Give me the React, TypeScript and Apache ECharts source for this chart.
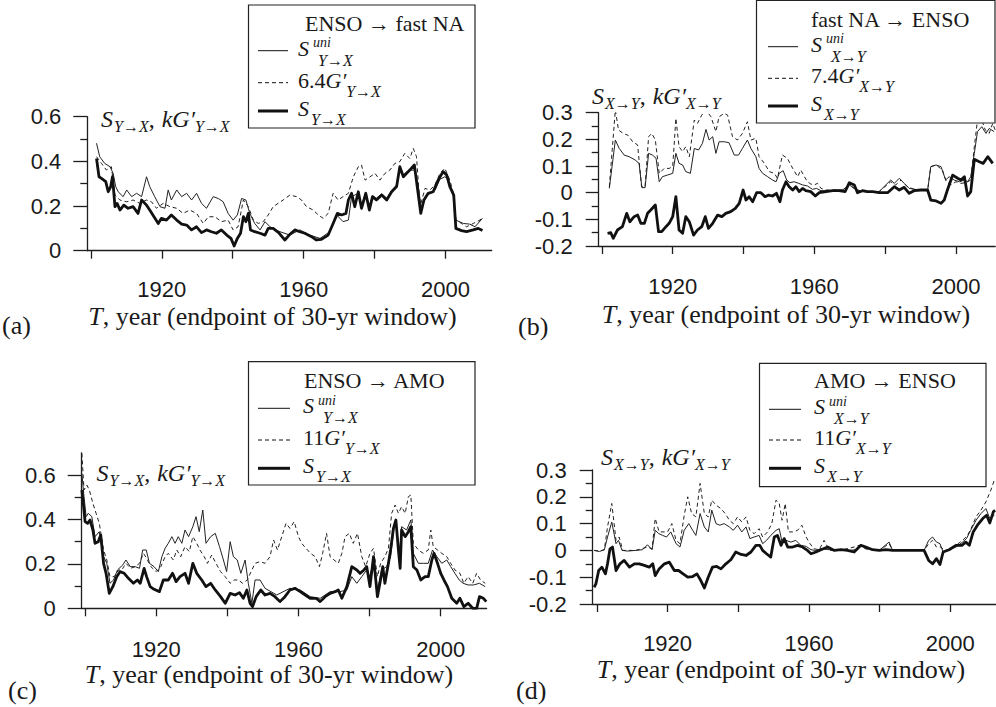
import React, { useEffect, useRef } from "react";
import * as echarts from "echarts";

// ---------- axis tick values ----------
const xTickYears = [1900, 1920, 1940, 1960, 1980, 2000];
const xLabelYears = [1920, 1960, 2000];
const yMajorAC = [0, 0.2, 0.4, 0.6];
const yMinorAC = [0.1, 0.3, 0.5];
const yMajorBD = [-0.2, -0.1, 0, 0.1, 0.2, 0.3];
const yMinorBD = [-0.15, -0.05, 0.05, 0.15, 0.25];

// ---------- panel (a): ENSO -> fast NA ----------
const aUni: [number, number][] = [[1901.6,0.481],[1902.5,0.421],[1903.9,0.391],[1905.4,0.376],[1906.3,0.346],[1907.0,0.287],[1907.7,0.264],[1909.1,0.242],[1910.1,0.272],[1911.5,0.242],[1912.9,0.257],[1914.3,0.242],[1915.7,0.331],[1916.6,0.287],[1918.0,0.242],[1919.5,0.197],[1920.9,0.19],[1921.8,0.272],[1922.7,0.227],[1924.2,0.272],[1925.6,0.242],[1927.0,0.257],[1928.4,0.227],[1929.8,0.257],[1931.2,0.212],[1932.6,0.19],[1934.5,0.242],[1935.9,0.234],[1937.3,0.219],[1938.7,0.167],[1940.1,0.137],[1941.3,0.16],[1942.5,0.234],[1943.7,0.227],[1944.8,0.167],[1946.2,0.122],[1947.7,0.093],[1949.1,0.13],[1950.5,0.107],[1953.3,0.085],[1956.1,0.07],[1958.9,0.093],[1961.7,0.07],[1964.6,0.055],[1967.4,0.085],[1969.3,0.16],[1971.1,0.13],[1972.6,0.137],[1973.5,0.242],[1975.4,0.257],[1976.3,0.2],[1977.5,0.262],[1978.5,0.19],[1979.4,0.245],[1980.5,0.235],[1982.0,0.255],[1983.4,0.235],[1984.8,0.27],[1986.2,0.295],[1987.1,0.37],[1988.1,0.34],[1989.5,0.36],[1991.4,0.361],[1992.3,0.29],[1993.2,0.182],[1994.2,0.235],[1995.6,0.26],[1997.0,0.27],[1998.4,0.32],[1999.8,0.331],[2000.8,0.32],[2002.2,0.242],[2002.9,0.137],[2005.0,0.122],[2006.8,0.119],[2008.3,0.107],[2010.4,0.145]];
const aGc: [number, number][] = [[1901.6,0.421],[1903.0,0.391],[1904.4,0.361],[1905.8,0.376],[1906.8,0.249],[1908.2,0.227],[1910.1,0.219],[1911.9,0.227],[1913.8,0.212],[1915.7,0.227],[1917.1,0.219],[1918.5,0.19],[1920.4,0.212],[1922.3,0.197],[1924.2,0.19],[1926.0,0.167],[1927.9,0.182],[1929.8,0.167],[1931.7,0.122],[1933.1,0.152],[1935.0,0.152],[1936.8,0.13],[1938.7,0.137],[1940.1,0.093],[1941.5,0.107],[1943.0,0.227],[1944.4,0.197],[1945.8,0.137],[1947.2,0.122],[1948.6,0.13],[1950.0,0.16],[1951.4,0.197],[1952.8,0.212],[1954.2,0.227],[1956.1,0.249],[1958.0,0.242],[1959.4,0.227],[1960.8,0.197],[1962.7,0.182],[1964.1,0.16],[1965.5,0.145],[1966.9,0.167],[1968.3,0.257],[1969.7,0.227],[1971.1,0.242],[1972.6,0.257],[1974.0,0.331],[1975.4,0.376],[1976.3,0.384],[1977.3,0.316],[1978.7,0.331],[1980.1,0.346],[1981.5,0.316],[1982.9,0.346],[1984.3,0.361],[1985.7,0.391],[1987.1,0.399],[1988.5,0.436],[1989.9,0.413],[1990.9,0.458],[1991.8,0.421],[1992.8,0.197],[1994.2,0.279],[1995.6,0.272],[1997.0,0.294],[1998.4,0.346],[1999.8,0.369],[2001.2,0.316],[2002.2,0.257],[2002.9,0.137],[2004.5,0.122],[2005.9,0.107],[2007.8,0.122],[2009.7,0.137],[2010.4,0.152]];
const aS: [number, number][] = [[1901.6,0.413],[1902.3,0.331],[1903.0,0.324],[1904.2,0.309],[1904.9,0.264],[1905.6,0.287],[1906.1,0.331],[1906.8,0.197],[1907.4,0.212],[1908.2,0.182],[1909.3,0.204],[1910.5,0.19],[1911.9,0.197],[1913.3,0.167],[1914.3,0.227],[1915.7,0.204],[1916.6,0.182],[1917.8,0.152],[1919.0,0.122],[1919.9,0.145],[1921.3,0.137],[1922.7,0.16],[1924.2,0.137],[1925.6,0.119],[1927.0,0.115],[1928.4,0.093],[1929.8,0.107],[1931.2,0.081],[1932.6,0.093],[1934.0,0.085],[1935.4,0.078],[1936.8,0.093],[1938.3,0.07],[1939.5,0.055],[1940.4,0.021],[1941.3,0.055],[1942.2,0.078],[1943.0,0.152],[1943.7,0.13],[1944.4,0.167],[1945.0,0.093],[1946.2,0.085],[1947.7,0.078],[1949.1,0.07],[1950.0,0.1],[1951.4,0.1],[1953.1,0.078],[1954.7,0.048],[1955.9,0.07],[1957.5,0.093],[1958.9,0.085],[1960.3,0.078],[1962.2,0.063],[1963.6,0.048],[1965.0,0.051],[1966.9,0.07],[1968.3,0.122],[1969.5,0.167],[1970.7,0.16],[1971.9,0.167],[1972.6,0.227],[1973.5,0.257],[1974.4,0.197],[1975.4,0.264],[1976.3,0.19],[1977.5,0.257],[1978.5,0.182],[1979.4,0.242],[1980.5,0.227],[1982.0,0.249],[1983.4,0.227],[1984.8,0.264],[1986.2,0.287],[1987.1,0.376],[1988.1,0.331],[1989.5,0.354],[1991.2,0.384],[1992.0,0.287],[1993.0,0.167],[1993.9,0.227],[1995.1,0.257],[1996.5,0.264],[1997.9,0.316],[1999.3,0.354],[2000.3,0.339],[2001.2,0.287],[2002.3,0.249],[2002.9,0.1],[2004.5,0.09],[2005.9,0.085],[2007.8,0.093],[2009.2,0.1],[2010.4,0.09]];

// ---------- panel (b): fast NA -> ENSO ----------
const bUni: [number, number][] = [[1902.1,0.016],[1903.8,0.1975],[1904.9,0.166],[1906.3,0.141],[1907.7,0.135],[1909.4,0.1225],[1910.5,0.11],[1911.3,0.019],[1912.2,0.019],[1913.2,0.1475],[1914.3,0.141],[1915.3,0.129],[1916.2,0.041],[1917.1,0.06],[1918.5,0.066],[1920.0,0.0725],[1920.9,0.1475],[1921.8,0.11],[1922.8,0.104],[1923.7,0.079],[1925.0,0.0725],[1926.1,0.166],[1927.3,0.16],[1928.4,0.185],[1929.4,0.2375],[1930.3,0.1975],[1931.3,0.21],[1932.2,0.1475],[1933.1,0.191],[1934.6,0.191],[1935.9,0.1875],[1937.4,0.141],[1938.6,0.141],[1939.7,0.166],[1941.1,0.1975],[1942.1,0.166],[1943.5,0.135],[1944.4,0.091],[1945.4,0.0725],[1946.8,0.06],[1948.2,0.0475],[1949.2,0.041],[1950.1,0.0725],[1951.2,0.0825],[1952.2,0.0475],[1953.1,0.0375],[1954.3,0.041],[1955.6,0.035],[1956.7,0.029],[1958.1,0.025],[1959.5,0.0125],[1960.6,0.016],[1961.9,0.0075],[1964.2,0.0075],[1968.0,0.01],[1969.9,0.029],[1971.8,0.0125],[1973.6,0.004],[1978.3,0.004],[1981.6,0.0475],[1982.6,0.035],[1984.0,0.054],[1985.4,0.035],[1986.8,0.016],[1989.6,0.01],[1992.0,0.0075],[1992.9,0.0975],[1994.4,0.104],[1995.8,0.0975],[1997.1,0.0475],[1998.1,0.06],[1999.5,0.0475],[2001.0,0.041],[2002.4,0.0475],[2003.3,0.041],[2004.2,0.06],[2005.2,0.1475],[2006.1,0.229],[2007.3,0.2475],[2008.5,0.2225],[2009.4,0.241],[2010.8,0.229]];
const bGc: [number, number][] = [[1902.1,0.0225],[1903.8,0.31],[1904.7,0.235],[1906.0,0.2225],[1907.3,0.216],[1908.7,0.191],[1910.1,0.179],[1911.2,0.0225],[1912.2,0.0225],[1913.2,0.21],[1914.1,0.2225],[1915.1,0.1975],[1916.2,0.0725],[1917.6,0.091],[1919.0,0.091],[1920.0,0.0975],[1920.9,0.279],[1921.8,0.1725],[1922.8,0.154],[1923.7,0.1725],[1924.7,0.135],[1926.1,0.2725],[1927.0,0.26],[1928.2,0.291],[1929.4,0.31],[1930.8,0.285],[1932.2,0.229],[1933.1,0.285],[1934.6,0.2975],[1935.5,0.291],[1936.9,0.21],[1938.3,0.1975],[1939.7,0.2225],[1941.1,0.266],[1942.1,0.1975],[1943.5,0.204],[1944.4,0.135],[1945.9,0.11],[1947.3,0.079],[1948.7,0.0725],[1949.6,0.054],[1951.0,0.141],[1952.4,0.129],[1953.9,0.091],[1955.3,0.06],[1956.2,0.085],[1957.2,0.06],[1958.1,0.041],[1959.0,0.0325],[1960.0,0.029],[1960.9,0.035],[1961.9,0.016],[1963.3,0.01],[1968.0,0.01],[1969.9,0.029],[1971.8,0.01],[1973.6,0.004],[1978.3,0.004],[1981.6,0.041],[1983.0,0.029],[1984.5,0.0475],[1986.3,0.0225],[1988.7,0.01],[1992.0,0.0075],[1992.9,0.0975],[1994.4,0.104],[1996.2,0.085],[1997.3,0.041],[1998.6,0.029],[2000.0,0.041],[2001.4,0.035],[2002.8,0.0375],[2004.2,0.0475],[2005.2,0.1725],[2006.1,0.2725],[2007.3,0.2725],[2008.3,0.235],[2009.4,0.2225],[2010.4,0.26],[2011.1,0.235]];
const bS: [number, number][] = [[1901.6,-0.1525],[1902.5,-0.15],[1903.2,-0.171],[1904.4,-0.14],[1905.8,-0.1275],[1907.0,-0.0775],[1907.9,-0.109],[1909.1,-0.09],[1910.1,-0.084],[1911.0,-0.115],[1912.0,-0.115],[1912.9,-0.0775],[1913.8,-0.065],[1915.1,-0.046],[1916.0,-0.146],[1916.9,-0.146],[1918.1,-0.1275],[1919.0,-0.115],[1920.0,-0.09],[1920.9,-0.015],[1921.8,-0.14],[1922.8,-0.1525],[1923.7,-0.09],[1924.7,-0.109],[1925.9,-0.159],[1927.0,-0.14],[1928.2,-0.1275],[1929.2,-0.09],[1930.1,-0.134],[1931.3,-0.115],[1932.7,-0.084],[1933.9,-0.09],[1935.0,-0.0775],[1936.4,-0.071],[1937.7,-0.059],[1938.8,-0.04],[1939.9,0.01],[1940.7,-0.0275],[1941.6,-0.015],[1942.6,-0.034],[1943.7,0],[1944.9,0],[1946.1,-0.015],[1947.1,-0.009],[1948.2,-0.0125],[1949.3,-0.0025],[1950.3,-0.034],[1951.0,0.01],[1952.0,0.041],[1952.9,0.0225],[1953.9,0.01],[1954.8,0.0225],[1955.7,0.004],[1956.7,0.016],[1957.6,0.0075],[1959.0,0.004],[1960.3,-0.0125],[1961.4,0],[1963.3,0.004],[1965.2,0.0075],[1967.0,0.0075],[1968.7,0.004],[1969.9,0.0375],[1971.3,0.029],[1972.2,0],[1973.6,0.0075],[1975.0,0.004],[1976.5,0.004],[1978.3,0],[1980.7,0],[1982.6,0.0225],[1984.0,0.01],[1985.4,0.02],[1986.8,-0.0025],[1988.2,0.0075],[1990.1,0.01],[1992.0,0.01],[1992.9,-0.0275],[1994.4,-0.031],[1995.8,-0.04],[1996.7,-0.0275],[1997.6,0.01],[1999.1,0.066],[2000.5,0.054],[2001.4,0.0475],[2002.4,0.06],[2003.3,-0.0125],[2004.2,0.004],[2005.2,0.125],[2006.6,0.116],[2007.7,0.11],[2009.0,0.135],[2010.4,0.11]];

// ---------- panel (c): ENSO -> AMO ----------
const cUni: [number, number][] = [[1899.1,0.6075],[1899.7,0.5025],[1900.3,0.4125],[1900.9,0.4275],[1901.9,0.4125],[1902.8,0.3225],[1904.0,0.345],[1905.2,0.2325],[1906.1,0.2025],[1907.0,0.1125],[1908.0,0.1275],[1909.1,0.1725],[1910.6,0.195],[1911.5,0.2175],[1912.7,0.1875],[1914.1,0.1875],[1915.3,0.18],[1916.2,0.2625],[1917.2,0.2625],[1918.1,0.2025],[1919.4,0.1875],[1920.6,0.165],[1921.6,0.2325],[1922.5,0.27],[1923.4,0.2925],[1924.4,0.3225],[1925.3,0.2925],[1926.2,0.3225],[1927.2,0.2925],[1928.1,0.3525],[1929.1,0.3225],[1930.3,0.3675],[1931.2,0.4125],[1932.1,0.345],[1933.1,0.4425],[1934.0,0.2925],[1935.3,0.3225],[1936.6,0.3375],[1937.8,0.2775],[1938.9,0.2175],[1939.8,0.165],[1940.8,0.3],[1941.7,0.2325],[1942.8,0.2175],[1943.8,0.1575],[1945.0,0.2175],[1945.9,0.1125],[1946.9,0.0225],[1947.8,0.1275],[1949.2,0.1275],[1950.6,0.09],[1953.9,0.06],[1957.6,0.09],[1960.5,0.0825],[1963.3,0.0525],[1966.1,0.045],[1968.9,0.075],[1971.7,0.075],[1973.6,0.0825],[1975.0,0.1425],[1976.4,0.1125],[1977.8,0.1425],[1979.2,0.1725],[1980.1,0.1425],[1981.1,0.2175],[1982.2,0.0825],[1983.4,0.1725],[1984.8,0.1875],[1985.9,0.2325],[1986.9,0.3675],[1987.6,0.3675],[1988.4,0.2325],[1989.0,0.3675],[1990.4,0.3525],[1991.6,0.3975],[1992.3,0.2475],[1993.7,0.2025],[1995.1,0.2025],[1996.5,0.2025],[1997.7,0.2625],[1998.9,0.2325],[2000.3,0.2025],[2001.7,0.2175],[2002.8,0.1875],[2004.0,0.1575],[2005.2,0.1275],[2006.3,0.1125],[2007.7,0.105],[2009.2,0.105],[2010.9,0.1125],[2012.5,0.0975]];
const cGc: [number, number][] = [[1899.1,0.6975],[1899.7,0.5325],[1900.5,0.555],[1901.2,0.5325],[1902.2,0.4725],[1903.1,0.4275],[1904.0,0.3825],[1905.2,0.2625],[1906.1,0.2175],[1907.0,0.1425],[1908.2,0.1425],[1909.4,0.1725],[1910.3,0.1725],[1911.5,0.2025],[1912.8,0.18],[1914.1,0.1875],[1915.3,0.2025],[1916.4,0.2475],[1917.3,0.225],[1918.5,0.1875],[1920.0,0.165],[1921.3,0.1875],[1922.5,0.2325],[1923.4,0.2475],[1924.8,0.2175],[1925.8,0.2625],[1926.9,0.2325],[1928.1,0.2775],[1929.3,0.255],[1930.3,0.3225],[1931.4,0.2925],[1932.3,0.2625],[1933.5,0.2325],[1934.4,0.2025],[1935.6,0.24],[1936.8,0.2025],[1938.1,0.165],[1939.4,0.1425],[1940.8,0.1125],[1941.9,0.1275],[1943.1,0.1275],[1944.3,0.1125],[1945.6,0.1275],[1946.9,0.1725],[1947.8,0.2025],[1949.2,0.21],[1950.6,0.2025],[1952.0,0.2325],[1953.0,0.3075],[1954.1,0.2625],[1955.3,0.3225],[1956.5,0.3825],[1957.6,0.36],[1958.8,0.39],[1960.0,0.3225],[1960.9,0.2925],[1962.1,0.27],[1963.4,0.2475],[1964.7,0.2325],[1965.9,0.1875],[1966.8,0.2475],[1967.9,0.3375],[1968.9,0.2325],[1970.0,0.2175],[1971.2,0.2025],[1972.2,0.2475],[1973.1,0.3225],[1974.3,0.3375],[1975.4,0.2925],[1976.6,0.3375],[1977.8,0.2325],[1978.9,0.1875],[1980.1,0.2475],[1981.1,0.27],[1982.2,0.1425],[1983.1,0.2025],[1984.3,0.2325],[1985.3,0.27],[1986.2,0.4275],[1987.2,0.465],[1988.1,0.4275],[1989.0,0.4575],[1990.0,0.4275],[1990.9,0.5025],[1991.6,0.51],[1992.3,0.2925],[1993.7,0.2625],[1995.1,0.2475],[1996.5,0.2625],[1997.2,0.3525],[1997.9,0.2775],[1999.1,0.2625],[2000.3,0.2475],[2001.7,0.2325],[2002.8,0.2025],[2004.0,0.1725],[2005.4,0.1575],[2006.5,0.1125],[2007.7,0.1425],[2009.0,0.1125],[2010.1,0.1575],[2011.2,0.1275],[2012.5,0.1125]];
const cS: [number, number][] = [[1899.1,0.5325],[1899.5,0.4725],[1900.0,0.39],[1900.7,0.3825],[1901.4,0.3975],[1902.2,0.3525],[1902.8,0.2925],[1903.7,0.3],[1904.4,0.33],[1905.2,0.2025],[1905.9,0.1575],[1906.8,0.0675],[1907.8,0.0975],[1908.9,0.1425],[1909.8,0.165],[1911.0,0.1575],[1912.2,0.135],[1913.6,0.1125],[1914.7,0.1275],[1915.5,0.1125],[1916.6,0.18],[1917.3,0.1425],[1918.3,0.0975],[1919.4,0.0855],[1920.9,0.075],[1922.0,0.1275],[1923.4,0.1275],[1924.6,0.1575],[1925.6,0.12],[1926.7,0.1425],[1928.1,0.1575],[1929.1,0.1125],[1930.3,0.2025],[1931.4,0.1575],[1932.8,0.1275],[1934.0,0.0975],[1935.3,0.1125],[1936.6,0.0825],[1938.1,0.0525],[1939.4,0.0225],[1940.8,0.0675],[1942.2,0.06],[1943.4,0.0705],[1944.5,0.045],[1945.5,0.0825],[1946.4,0.0225],[1947.1,0.0075],[1948.1,0.0525],[1949.4,0.0825],[1950.6,0.06],[1952.0,0.0675],[1953.4,0.0525],[1954.8,0.03],[1956.2,0.0525],[1957.6,0.0825],[1959.0,0.09],[1960.5,0.075],[1961.9,0.06],[1963.3,0.045],[1965.0,0.045],[1966.1,0.03],[1967.5,0.0525],[1968.9,0.0675],[1970.3,0.075],[1971.2,0.0825],[1972.2,0.045],[1973.6,0.0975],[1975.0,0.1875],[1976.4,0.1725],[1977.3,0.1575],[1978.4,0.1725],[1979.2,0.1875],[1980.1,0.0975],[1981.1,0.2325],[1982.2,0.0525],[1982.9,0.1125],[1983.7,0.1875],[1984.3,0.1125],[1985.3,0.2025],[1985.9,0.2625],[1986.7,0.36],[1987.4,0.3975],[1988.1,0.2625],[1988.6,0.18],[1989.0,0.3525],[1990.0,0.3225],[1990.9,0.345],[1991.6,0.3675],[1992.3,0.1875],[1993.3,0.1725],[1994.4,0.1275],[1995.6,0.1425],[1996.5,0.1425],[1997.5,0.2175],[1998.1,0.2475],[1999.1,0.2025],[2000.0,0.1575],[2000.9,0.1275],[2001.9,0.0975],[2003.1,0.045],[2004.5,0.0225],[2005.4,0.045],[2006.5,0.0075],[2007.7,0.0225],[2009.0,0],[2010.1,0],[2010.9,0.0525],[2012.0,0.045],[2012.8,0.03]];

// ---------- panel (d): AMO -> ENSO ----------
const dUni: [number, number][] = [[1899.2,0],[1900.7,-0.004],[1902.1,0.0025],[1903.0,0.05],[1904.2,0.106],[1905.4,0.025],[1906.1,0.0375],[1907.1,0],[1908.7,-0.0025],[1911.0,0],[1912.9,0.0025],[1914.3,0.021],[1915.6,0.0025],[1916.5,0.075],[1917.5,0.0625],[1918.6,0.056],[1919.7,0.05],[1920.9,0.069],[1922.4,0.025],[1923.5,0.0125],[1924.7,0.075],[1926.0,0.1],[1927.1,0.075],[1928.0,0.056],[1929.2,0.1375],[1930.4,0.0875],[1931.5,0.069],[1932.5,0.15],[1933.7,0.1],[1934.8,0.094],[1936.0,0.1],[1937.5,0.0875],[1938.6,0.075],[1939.8,0.094],[1941.0,0.069],[1942.2,0.0875],[1943.3,0.044],[1944.5,0.05],[1945.9,0.056],[1946.9,0.025],[1948.0,0.0375],[1949.2,0.056],[1950.7,0.075],[1951.6,0.081],[1952.4,0.031],[1953.5,0.0375],[1954.9,0.031],[1956.3,0.0375],[1957.7,0.019],[1959.2,0.015],[1960.6,0.0025],[1962.0,0],[1963.4,0.006],[1965.8,0.0025],[1968.6,0.0025],[1971.4,0],[1973.3,0.0025],[1974.7,0.021],[1976.1,0.006],[1979.9,0],[1982.7,0.031],[1983.7,0],[1985.6,0.0025],[1988.4,0],[1992.6,0],[1993.9,0.0375],[1995.0,0.05],[1996.1,0.031],[1997.1,0.025],[1998.0,-0.006],[1999.7,0.0025],[2001.6,0.0125],[2003.5,0.031],[2004.6,0.044],[2005.8,0.075],[2007.3,0.1125],[2008.7,0.1375],[2010.1,0.156],[2011.2,0.119],[2012.5,0.131]];
const dGc: [number, number][] = [[1899.2,0],[1900.7,-0.0025],[1902.1,0.0025],[1903.0,0.0875],[1904.2,0.175],[1905.4,0.0375],[1906.3,0.05],[1907.3,0],[1911.0,0],[1914.3,0.0125],[1915.6,0.006],[1916.5,0.119],[1917.6,0.069],[1919.1,0.069],[1920.0,0.069],[1921.2,0.1],[1922.4,0.0375],[1923.5,0.025],[1924.7,0.131],[1925.7,0.2],[1926.8,0.1375],[1928.0,0.125],[1929.2,0.25],[1930.4,0.1375],[1931.5,0.125],[1932.5,0.1875],[1933.7,0.169],[1935.1,0.156],[1936.3,0.1375],[1937.5,0.1125],[1938.6,0.1],[1939.8,0.125],[1941.0,0.106],[1942.2,0.125],[1943.3,0.075],[1944.5,0.0625],[1945.9,0.081],[1946.9,0.05],[1948.3,0.069],[1949.5,0.1],[1950.7,0.1875],[1951.6,0.175],[1952.4,0.1125],[1953.3,0.175],[1954.2,0.069],[1955.4,0.069],[1956.8,0.075],[1958.0,0.094],[1959.2,0.05],[1960.3,0.025],[1961.5,0.006],[1962.9,0.0025],[1964.3,0.0375],[1965.8,0],[1969.5,0.0025],[1972.8,0.0125],[1974.2,0.019],[1976.1,0.006],[1979.9,0],[1982.7,0.025],[1983.7,0],[1988.4,0],[1992.6,0],[1993.9,0.025],[1995.0,0.0375],[1996.1,0.0125],[1997.4,0.0125],[1998.3,0],[1999.7,0.0025],[2001.6,0.019],[2003.5,0.0375],[2004.9,0.056],[2006.1,0.0875],[2007.3,0.125],[2008.7,0.15],[2010.1,0.181],[2011.5,0.225],[2012.5,0.2625]];
const dS: [number, number][] = [[1899.2,-0.1375],[1899.7,-0.125],[1900.5,-0.075],[1901.4,-0.0625],[1902.4,-0.0875],[1903.0,-0.05],[1903.7,0.006],[1904.4,0.0125],[1905.4,-0.075],[1906.5,-0.05],[1907.7,-0.0375],[1909.2,-0.0625],[1910.6,-0.05],[1912.0,-0.05],[1913.4,-0.056],[1914.8,-0.0625],[1915.8,-0.05],[1916.5,-0.094],[1917.6,-0.069],[1919.1,-0.05],[1920.5,-0.044],[1921.9,-0.075],[1923.1,-0.075],[1924.4,-0.0875],[1925.7,-0.1],[1927.1,-0.0975],[1928.3,-0.0875],[1929.4,-0.1125],[1930.4,-0.14],[1931.5,-0.1],[1932.7,-0.0625],[1933.9,-0.06],[1935.1,-0.069],[1936.5,-0.05],[1937.9,-0.035],[1939.3,-0.006],[1940.8,-0.015],[1942.2,-0.019],[1943.6,-0.006],[1945.0,0.019],[1946.1,0.019],[1946.9,0],[1948.0,-0.0125],[1949.2,-0.025],[1950.2,0.05],[1951.1,0.056],[1952.1,0.019],[1953.0,0.044],[1954.0,0.0125],[1955.4,0.0125],[1956.8,0.019],[1958.2,0.0125],[1959.6,0],[1960.6,-0.0125],[1962.0,-0.006],[1963.4,0.0025],[1965.3,0.0125],[1967.2,0],[1969.1,0.0025],[1970.9,0],[1972.8,-0.006],[1974.7,0.019],[1976.1,0.0125],[1978.0,0.0025],[1979.9,0],[1981.8,0.0025],[1983.7,0],[1985.6,0],[1988.4,0],[1992.6,0],[1993.9,-0.0375],[1995.0,-0.05],[1996.1,-0.031],[1997.1,-0.0525],[1998.0,-0.006],[1999.7,0.0025],[2001.6,0.019],[2003.3,0.019],[2004.4,0.031],[2005.4,0.019],[2006.5,0.069],[2007.7,0.094],[2009.2,0.119],[2010.3,0.131],[2011.2,0.1025],[2012.2,0.144],[2012.7,0.15]];

// ---------- texts ----------
const panelLetters = ["(a)", "(b)", "(c)", "(d)"];
const legendTitles = ["ENSO \u2192 fast NA", "fast NA \u2192 ENSO", "ENSO \u2192 AMO", "AMO \u2192 ENSO"];
const legendCoefs = ["6.4", "7.4", "11", "11"];
const directions = ["Y\u2192X", "X\u2192Y", "Y\u2192X", "X\u2192Y"];
const xAxisName = ", year (endpoint of 30-yr window)";

const SERIF = '"Liberation Serif", "Times New Roman", serif';
const SANS = '"Liberation Sans", Arial, sans-serif';
const INK = "#1a1a1a";
const AXIS = "#1e1e1e";

// layout (pixels) for each panel
const panels = [
  { grid: { left: 87.3, top: 116.7, width: 404.4, height: 134 }, x: [1899, 2013], y: [0, 0.6], major: yMajorAC, minor: yMinorAC, majLen: 14, lblMargin: 28,
    box: [248.5, 5, 226.5, 123], titleX: 305, titleBase: 31, lx: [258, 288], rows: [50.7, 82.7, 111], labX: 298,
    yt: [101, 127], xn: [272.5, 325], letter: [2, 334] },
  { grid: { left: 598.7, top: 112.7, width: 396.5, height: 133.3 }, x: [1899.1, 2011.1], y: [-0.2, 0.3], major: yMajorBD, minor: yMinorBD, majLen: 13, lblMargin: 29,
    box: [756.5, 0.5, 238.5, 122.5], titleX: 811, titleBase: 27, lx: [768, 798], rows: [46.7, 78.3, 106], labX: 811,
    yt: [592, 104], xn: [786, 323], letter: [518, 335] },
  { grid: { left: 81.7, top: 452.8, width: 404.9, height: 155.5 }, x: [1899.05, 2012.9], y: [0, 0.7], major: yMajorAC, minor: yMinorAC, majLen: 14, lblMargin: 30,
    box: [248.5, 361.7, 226.5, 123.3], titleX: 304, titleBase: 388, lx: [258, 290], rows: [408.3, 440, 468.3], labX: 303,
    yt: [96.5, 481], xn: [269, 683], letter: [8, 699] },
  { grid: { left: 592.7, top: 470, width: 403.1, height: 134 }, x: [1898.8, 2012.9], y: [-0.2, 0.3], major: yMajorBD, minor: yMinorBD, majLen: 13, lblMargin: 28,
    box: [759.5, 363.3, 226.5, 123.3], titleX: 814, titleBase: 388, lx: [769, 801], rows: [409.3, 440, 468.3], labX: 814,
    yt: [601, 465], xn: [781, 678], letter: [516, 699] },
];

const seriesData = [
  [aGc, aUni, aS],
  [bGc, bUni, bS],
  [cGc, cUni, cS],
  [dGc, dUni, dS],
];

type Piece = { t: string; s: number; i?: boolean; dy?: number; dx?: number; back?: boolean };

function buildGraphics() {
  const cv = document.createElement("canvas");
  const ctx = cv.getContext("2d") as CanvasRenderingContext2D;
  const tw = (t: string, s: number, i: boolean) => {
    ctx.font = `${i ? "italic " : ""}${s}px ${SERIF}`;
    return ctx.measureText(t).width;
  };
  const els: any[] = [];
  const math = (x0: number, base: number, pieces: Piece[], center = false) => {
    let cur = 0;
    let prevStart = 0;
    const xs: number[] = [];
    pieces.forEach((p) => {
      const w = tw(p.t, p.s, !!p.i);
      const x = (p.back ? prevStart : cur) + (p.dx || 0);
      xs.push(x);
      prevStart = x;
      cur = p.back ? Math.max(cur, x + w) : x + w;
    });
    const shift = center ? -cur / 2 : 0;
    pieces.forEach((p, k) => {
      const y = base + (p.dy || 0) - 0.34 * p.s;
      els.push({
        type: "text",
        x: x0 + xs[k] + shift,
        y,
        z: 110,
        silent: true,
        style: {
          text: p.t,
          fontSize: p.s,
          fontFamily: SERIF,
          fontStyle: p.i ? "italic" : "normal",
          fill: INK,
          align: "left",
          verticalAlign: "middle",
          textAlign: "left",
          textVerticalAlign: "middle",
        },
      });
    });
  };

  panels.forEach((P, n) => {
    const dir = directions[n];
    // legend box
    els.push({
      type: "rect",
      z: 100,
      silent: true,
      shape: { x: P.box[0], y: P.box[1], width: P.box[2], height: P.box[3] },
      style: { fill: "#fff", stroke: "#222", lineWidth: 1.2 },
    });
    math(P.titleX, P.titleBase, [{ t: legendTitles[n], s: 22 }]);
    const widths = [1, 1, 3];
    P.rows.forEach((ly, k) => {
      const st: any = { stroke: "#111", lineWidth: widths[k] };
      if (k === 1) st.lineDash = [4, 3];
      els.push({ type: "line", z: 105, silent: true, shape: { x1: P.lx[0], y1: ly, x2: P.lx[1], y2: ly }, style: st });
    });
    const b = P.rows.map((r) => r + 5);
    math(P.labX, b[0], [
      { t: "S", s: 22, i: true },
      { t: "uni", s: 14, i: true, dy: -8, dx: 4 },
      { t: dir, s: 16, i: true, dy: 10, back: true, dx: 5 },
    ]);
    math(P.labX, b[1], [
      { t: legendCoefs[n], s: 22 },
      { t: "G\u2032", s: 22, i: true },
      { t: dir, s: 16, i: true, dy: 9 },
    ]);
    math(P.labX, b[2], [
      { t: "S", s: 22, i: true },
      { t: dir, s: 16, i: true, dy: 9, dx: 2 },
    ]);
    // y-axis title
    math(P.yt[0], P.yt[1], [
      { t: "S", s: 24, i: true },
      { t: dir, s: 16, i: true, dy: 5, dx: 1 },
      { t: ",", s: 24 },
      { t: "kG\u2032", s: 24, i: true, dx: 7 },
      { t: dir, s: 16, i: true, dy: 5 },
    ]);
    // x-axis name
    math(P.xn[0], P.xn[1], [{ t: "T", s: 26, i: true }, { t: xAxisName, s: 26 }], true);
    // panel letter
    math(P.letter[0], P.letter[1], [{ t: panelLetters[n], s: 26 }]);
  });
  return els;
}

function buildOption() {
  const grid: any[] = [];
  const xAxis: any[] = [];
  const yAxis: any[] = [];
  const series: any[] = [];
  const axisLine = { show: true, onZero: false, lineStyle: { color: AXIS, width: 1.3 } };
  const tickStyle = { color: AXIS, width: 1.3 };
  const fmt = (v: number) => String(Math.round(v * 100) / 100);
  panels.forEach((P, n) => {
    grid.push({ ...P.grid, containLabel: false, outerBoundsMode: "none" });
    xAxis.push({
      gridIndex: n,
      type: "value",
      position: "bottom",
      min: P.x[0],
      max: P.x[1],
      axisLine,
      axisTick: { show: true, inside: false, length: 8, customValues: xTickYears, lineStyle: tickStyle },
      axisLabel: { show: true, customValues: xLabelYears, margin: P.lblMargin, fontSize: 22, fontFamily: SANS, color: INK, formatter: (v: number) => String(Math.round(v)) },
      splitLine: { show: false },
    });
    yAxis.push({
      gridIndex: n,
      type: "value",
      position: "left",
      min: P.y[0],
      max: P.y[1],
      axisLine,
      axisTick: { show: true, inside: false, length: P.majLen, customValues: P.major, lineStyle: tickStyle },
      axisLabel: { show: true, customValues: P.major, margin: 26, fontSize: 22, fontFamily: SANS, color: INK, formatter: fmt },
      splitLine: { show: false },
    });
    yAxis.push({
      gridIndex: n,
      type: "value",
      position: "left",
      offset: 0,
      min: P.y[0],
      max: P.y[1],
      axisLine: { show: false, onZero: false },
      axisTick: { show: true, inside: false, length: 7, customValues: P.minor, lineStyle: tickStyle },
      axisLabel: { show: false },
      splitLine: { show: false },
    });
    const [gc, uni, s] = seriesData[n];
    const base = { type: "line", xAxisIndex: n, yAxisIndex: n * 2, showSymbol: false, symbol: "none", silent: true, clip: true };
    series.push({ ...base, name: "gc" + n, data: gc, z: 3, itemStyle: { color: "#222" }, lineStyle: { color: "#222", width: 1, type: [4, 3] } });
    series.push({ ...base, name: "uni" + n, data: uni, z: 4, itemStyle: { color: "#222" }, lineStyle: { color: "#222", width: 1 } });
    series.push({ ...base, name: "s" + n, data: s, z: 5, itemStyle: { color: "#111" }, lineStyle: { color: "#111", width: 2.8, join: "round" } });
  });
  return {
    animation: false,
    backgroundColor: "#ffffff",
    grid,
    xAxis,
    yAxis,
    series,
    graphic: { elements: buildGraphics() },
  };
}

export default function App() {
  const ref = useRef<HTMLDivElement>(null);
  useEffect(() => {
    if (!ref.current) return;
    const chart = echarts.init(ref.current, null, { renderer: "svg", width: 996, height: 707 });
    chart.setOption(buildOption() as any);
    return () => chart.dispose();
  }, []);
  return <div ref={ref} style={{ position: "absolute", left: 0, top: 0, width: 996, height: 707, background: "#fff" }} />;
}
